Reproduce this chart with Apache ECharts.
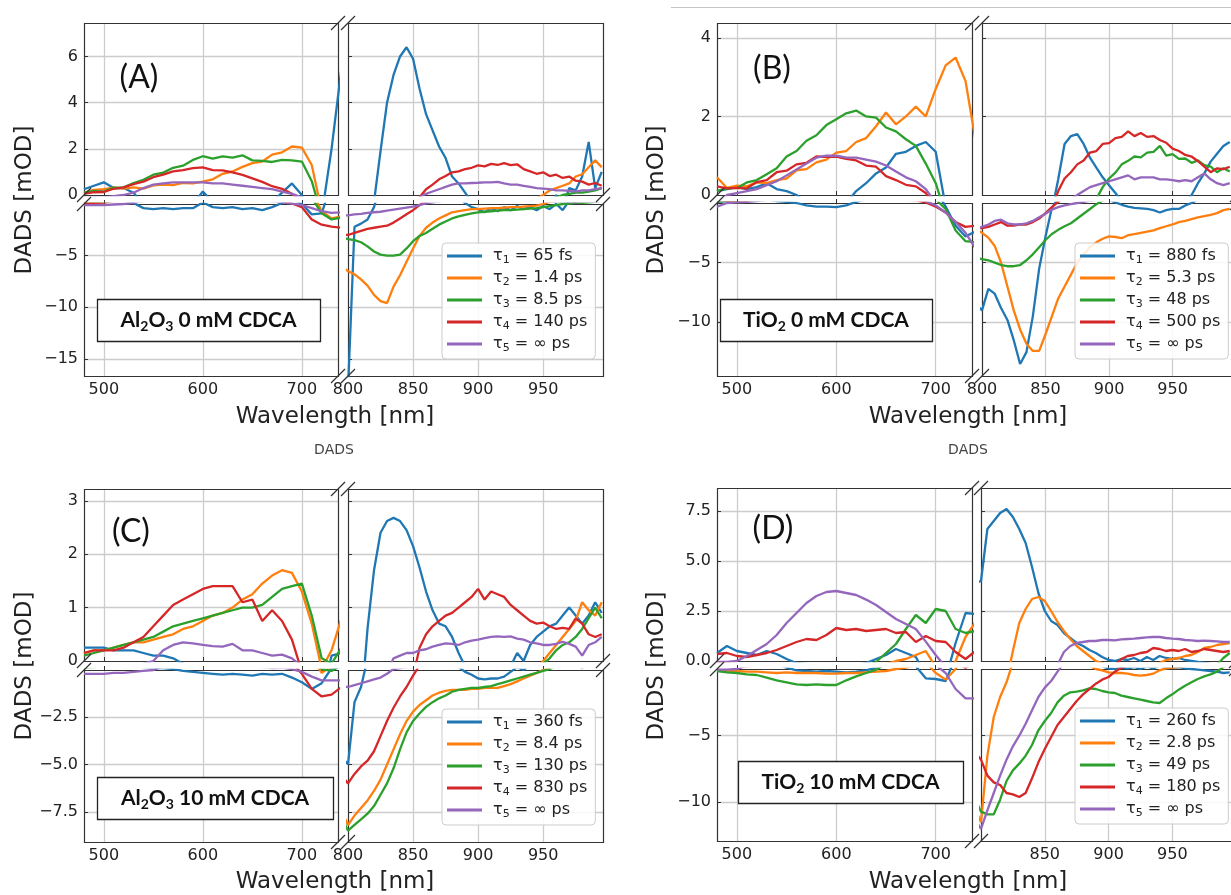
<!DOCTYPE html>
<html><head><meta charset="utf-8">
<script src="https://cdn.jsdelivr.net/npm/echarts@6/dist/echarts.min.js"></script>
<style>html,body{margin:0;padding:0;background:#fff}#c{width:1231px;height:895px}</style>
</head><body><div id="c"></div>
<script>
// ---------------- DATA ----------------
// wavelength grid (nm): left part 480..740 step 10, right part 800..995 step 5
const WL_LEFT = [480,490,500,510,520,530,540,550,560,570,580,590,600,610,620,630,640,650,660,670,680,690,700,710,720,730,740];
const WL_RIGHT = [800,805,810,815,820,825,830,835,840,845,850,855,860,865,870,875,880,885,890,895,900,905,910,915,920,925,930,935,940,945,950,955,960,965,970,975,980,985,990,995];
const WAVELENGTH = WL_LEFT.concat(WL_RIGHT);

// Panel A : Al2O3 0 mM CDCA
const A_tau1 = [0.25,0.4,0.55,0.3,0.3,0.1,-0.4,-0.5,-0.4,-0.5,-0.4,-0.4,0.15,-0.3,-0.4,-0.3,-0.5,-0.4,-0.6,-0.3,0.1,0.5,0.0,-1.0,-0.9,2.0,5.5,
  -18,-2.2,-1.9,-1.5,-0.3,1.9,4.0,5.2,6.0,6.4,5.9,4.6,3.5,2.8,2.1,1.6,0.8,0.5,0.1,-0.3,-0.5,-0.8,-0.4,-0.7,-0.3,-0.6,-0.2,-0.5,-0.3,-0.6,-0.2,-0.5,0.0,-0.6,0.3,0.2,0.8,2.3,0.3,1.0];
const A_tau2 = [0.1,0.22,0.25,0.32,0.28,0.33,0.28,0.42,0.45,0.43,0.52,0.5,0.58,0.68,0.92,1.02,1.22,1.38,1.45,1.75,1.85,2.1,2.05,1.3,-0.7,-1.4,-1.2,
  -6.5,-6.8,-7.3,-7.9,-8.8,-9.4,-9.6,-8.0,-6.9,-5.6,-4.3,-3.1,-2.3,-1.8,-1.4,-1.1,-0.8,-0.7,-0.6,-0.5,-0.5,-0.45,-0.4,-0.4,-0.35,-0.3,-0.3,-0.25,-0.2,-0.15,0.0,0.2,0.3,0.4,0.5,0.8,0.9,1.2,1.5,1.2];
const A_tau3 = [0.1,0.18,0.15,0.32,0.33,0.52,0.66,0.88,0.97,1.18,1.27,1.52,1.68,1.58,1.67,1.62,1.72,1.5,1.48,1.43,1.52,1.5,1.45,0.6,-0.9,-1.5,-1.3,
  -3.4,-3.5,-3.7,-4.1,-4.6,-4.9,-5.0,-5.0,-4.9,-4.3,-3.6,-3.1,-2.8,-2.4,-2.0,-1.7,-1.4,-1.2,-1.05,-0.9,-0.8,-0.75,-0.7,-0.65,-0.6,-0.6,-0.55,-0.5,-0.45,-0.4,-0.3,-0.2,-0.1,0.0,0.05,0.1,0.1,0.15,0.2,0.3];
const A_tau4 = [0.05,0.12,0.13,0.27,0.33,0.47,0.58,0.77,0.88,1.02,1.08,1.16,1.2,1.08,1.07,0.98,0.87,0.72,0.57,0.38,0.27,0.05,-0.3,-1.5,-2.0,-2.2,-2.3,
  -3.0,-2.8,-2.6,-2.4,-2.3,-2.2,-2.1,-1.8,-1.4,-1.0,-0.6,-0.1,0.25,0.45,0.68,0.82,0.98,1.02,1.12,1.18,1.28,1.24,1.35,1.3,1.38,1.29,1.33,1.12,1.02,0.92,0.98,0.82,0.88,0.74,0.8,0.62,0.58,0.45,0.52,0.4];
const A_tau5 = [-0.1,-0.1,-0.1,-0.05,0.0,0.1,0.3,0.45,0.5,0.55,0.55,0.55,0.55,0.5,0.5,0.45,0.4,0.35,0.3,0.25,0.15,0.05,-0.1,-0.4,-0.7,-0.85,-0.8,
  -1.1,-1.0,-0.95,-0.85,-0.8,-0.75,-0.65,-0.55,-0.45,-0.35,-0.25,-0.1,0.05,0.15,0.25,0.35,0.45,0.5,0.5,0.52,0.53,0.55,0.55,0.57,0.5,0.45,0.45,0.4,0.35,0.3,0.28,0.25,0.2,0.2,0.18,0.15,0.2,0.2,0.25,0.3];
const A_lifetimes = ['65 fs','1.4 ps','8.5 ps','140 ps','\u221e ps'];

// Panel B : TiO2 0 mM CDCA
const B_tau1 = [0.1,0.15,0.2,0.15,0.2,0.3,0.15,0.1,0.0,-0.2,-0.3,-0.3,-0.35,-0.2,0.1,0.3,0.55,0.7,1.05,1.1,1.25,1.35,1.1,-0.3,-1.9,-2.8,-2.4,
  -9.0,-7.2,-7.6,-8.8,-9.8,-11.5,-13.5,-12.5,-9.5,-5.5,-2.8,-0.4,0.4,1.3,1.5,1.55,1.3,0.95,0.7,0.45,0.25,0.05,-0.15,-0.3,-0.4,-0.45,-0.5,-0.6,-0.8,-0.6,-0.5,-0.5,-0.2,0.0,0.3,0.55,0.85,1.05,1.25,1.35];
const B_tau2 = [0.45,0.18,0.24,0.22,0.32,0.3,0.38,0.42,0.63,0.66,0.83,0.9,1.08,1.12,1.35,1.45,1.75,2.1,1.8,2.0,2.25,2.0,2.7,3.3,3.5,2.9,1.4,
  -2.5,-2.9,-3.6,-5.0,-7.0,-9.0,-10.6,-11.8,-12.4,-12.4,-11.0,-9.5,-8.0,-7.0,-6.0,-5.0,-4.3,-3.7,-3.3,-3.0,-2.8,-2.85,-2.95,-2.7,-2.6,-2.5,-2.4,-2.3,-2.1,-1.95,-1.8,-1.6,-1.5,-1.35,-1.2,-1.1,-1.0,-0.85,-0.6,-0.5];
const B_tau3 = [0.1,0.17,0.18,0.32,0.38,0.53,0.68,0.98,1.12,1.38,1.52,1.78,1.93,2.08,2.15,2.0,1.97,1.72,1.62,1.42,1.25,0.8,0.3,-0.5,-2.3,-3.2,-3.3,
  -4.7,-4.8,-5.0,-5.2,-5.3,-5.3,-5.2,-4.8,-4.3,-3.7,-3.1,-2.6,-2.25,-1.95,-1.7,-1.3,-0.9,-0.5,-0.1,0.2,0.42,0.57,0.78,0.87,0.98,0.96,1.08,1.1,1.25,1.0,1.04,0.92,0.93,0.82,0.88,0.76,0.72,0.58,0.68,0.6];
const B_tau4 = [0.22,0.17,0.18,0.17,0.33,0.38,0.58,0.62,0.78,0.82,0.98,0.97,0.98,0.92,0.88,0.75,0.72,0.48,0.38,0.26,0.22,0.05,-0.3,-0.8,-1.6,-2.0,-1.9,
  -2.1,-2.0,-1.8,-1.6,-1.9,-1.9,-1.8,-1.8,-1.6,-1.3,-0.85,-0.35,0.1,0.42,0.58,0.78,0.88,1.08,1.12,1.3,1.32,1.45,1.48,1.62,1.5,1.58,1.48,1.5,1.4,1.33,1.18,1.12,1.02,0.98,0.86,0.72,0.58,0.68,0.66,0.72];
const B_tau5 = [-0.3,0.0,0.05,0.1,0.15,0.25,0.35,0.5,0.65,0.8,0.95,1.0,1.0,0.95,0.95,0.9,0.85,0.75,0.6,0.45,0.35,0.15,-0.2,-0.8,-1.6,-2.5,-3.8,
  -2.0,-1.8,-1.5,-1.4,-1.7,-1.8,-1.8,-1.7,-1.5,-1.2,-0.9,-0.55,-0.35,-0.2,-0.1,0.0,0.1,0.2,0.25,0.3,0.35,0.4,0.45,0.5,0.4,0.45,0.45,0.45,0.4,0.4,0.38,0.35,0.38,0.35,0.45,0.55,0.4,0.3,0.25,0.3];
const B_lifetimes = ['880 fs','5.3 ps','48 ps','500 ps','\u221e ps'];

// Panel C : Al2O3 10 mM CDCA
const C_tau1 = [0.25,0.25,0.25,0.2,0.2,0.2,0.15,0.1,0.1,0.05,-0.05,-0.1,-0.15,-0.2,-0.25,-0.2,-0.25,-0.3,-0.2,-0.25,-0.2,-0.4,-0.65,-1.0,-0.7,0.1,0.15,
  -5.0,-1.7,-0.9,0.6,1.7,2.4,2.62,2.68,2.62,2.45,2.15,1.75,1.3,0.95,0.7,0.65,0.45,0.15,-0.1,-0.25,-0.45,-0.5,-0.45,-0.45,-0.35,-0.1,0.15,0.0,0.3,0.45,0.55,0.65,0.7,0.85,1.0,0.85,0.7,0.85,1.1,0.9];
const C_tau2 = [0.15,0.2,0.2,0.25,0.3,0.35,0.35,0.4,0.45,0.5,0.6,0.65,0.75,0.85,0.9,1.0,1.15,1.25,1.45,1.6,1.7,1.65,1.3,0.7,-0.15,0.2,0.8,
  -8.2,-7.7,-7.3,-6.9,-6.4,-5.8,-5.0,-4.2,-3.4,-2.7,-2.2,-1.85,-1.6,-1.35,-1.2,-1.1,-1.05,-1.05,-1.05,-1.0,-1.0,-0.95,-0.95,-0.95,-0.85,-0.75,-0.6,-0.45,-0.3,-0.15,0.0,0.15,0.3,0.45,0.6,0.75,1.1,0.95,0.85,1.1];
const C_tau3 = [0.1,0.15,0.2,0.25,0.3,0.35,0.4,0.45,0.55,0.65,0.7,0.75,0.8,0.85,0.9,0.95,1.0,1.0,1.05,1.2,1.35,1.4,1.45,0.85,0.05,-0.05,0.25,
  -8.5,-8.2,-7.9,-7.6,-7.2,-6.6,-6.0,-5.2,-4.2,-3.3,-2.7,-2.3,-1.95,-1.7,-1.5,-1.35,-1.15,-1.05,-1.0,-0.95,-0.95,-0.9,-0.85,-0.75,-0.65,-0.55,-0.45,-0.35,-0.25,-0.15,-0.05,0.05,0.2,0.3,0.35,0.45,0.6,0.8,1.0,0.8];
const C_tau4 = [0.15,0.2,0.2,0.2,0.25,0.35,0.45,0.65,0.85,1.05,1.15,1.25,1.35,1.4,1.4,1.4,1.1,1.15,0.75,0.95,0.75,0.4,-0.2,-1.0,-1.4,-1.3,-0.9,
  -6.0,-5.5,-5.1,-4.8,-4.3,-3.5,-2.7,-2.0,-1.4,-0.9,-0.3,0.25,0.5,0.65,0.75,0.85,0.9,1.0,1.1,1.2,1.35,1.15,1.3,1.25,1.2,1.05,0.95,0.85,0.75,0.7,0.72,0.65,0.6,0.62,0.6,0.8,0.7,0.5,0.45,0.5];
const C_tau5 = [-0.2,-0.2,-0.2,-0.15,-0.15,-0.1,-0.05,0.0,0.2,0.3,0.35,0.33,0.3,0.28,0.27,0.32,0.2,0.2,0.15,0.1,0.12,0.05,-0.1,-0.35,-0.55,-0.55,-0.55,
  -0.9,-0.8,-0.7,-0.6,-0.5,-0.4,-0.2,0.05,0.1,0.15,0.15,0.2,0.22,0.27,0.3,0.33,0.32,0.3,0.35,0.38,0.4,0.43,0.45,0.46,0.45,0.46,0.42,0.4,0.35,0.33,0.3,0.3,0.32,0.36,0.32,0.27,0.1,0.3,0.35,0.45];
const C_lifetimes = ['360 fs','8.4 ps','130 ps','830 ps','\u221e ps'];

// Panel D : TiO2 10 mM CDCA
const D_tau1 = [0.4,0.75,0.5,0.4,0.3,0.5,0.35,0.1,-0.1,-0.15,-0.2,-0.15,-0.2,-0.25,-0.2,-0.1,0.1,0.3,0.6,0.4,0.2,-0.7,-0.75,-0.9,0.9,2.4,2.35,
  4.0,6.6,7.0,7.4,7.6,7.2,6.6,5.9,4.7,3.4,2.5,2.0,1.8,1.4,1.15,0.9,0.75,0.55,0.4,0.2,0.05,0.0,0.1,0.05,0.15,0.0,0.2,0.05,0.25,0.15,0.1,0.15,0.05,0.0,-0.05,-0.1,-0.15,-0.2,-0.3,-0.25];
const D_tau2 = [-0.1,-0.15,-0.15,-0.2,-0.2,-0.25,-0.3,-0.25,-0.3,-0.3,-0.3,-0.35,-0.35,-0.3,-0.3,-0.25,-0.2,-0.15,0.0,0.1,0.3,0.5,-0.3,-0.8,0.0,1.2,1.95,
  -11.5,-6.5,-3.6,-2.1,-1.0,0.5,1.9,2.6,3.1,3.2,3.0,2.5,1.95,1.5,1.1,0.75,0.5,0.25,0.0,-0.1,-0.25,-0.3,-0.3,-0.35,-0.45,-0.5,-0.45,-0.35,-0.1,0.05,0.1,0.15,0.25,0.3,0.45,0.65,0.7,0.8,0.85,0.9];
const D_tau3 = [-0.15,-0.25,-0.3,-0.4,-0.45,-0.65,-0.85,-1.0,-1.15,-1.2,-1.15,-1.2,-1.2,-0.85,-0.55,-0.3,-0.05,0.4,0.85,1.6,2.3,1.9,2.6,2.5,1.6,1.4,1.5,
  -10.7,-10.9,-10.9,-9.8,-8.4,-7.6,-7.1,-6.5,-5.7,-4.6,-3.9,-3.3,-2.5,-2.0,-1.75,-1.7,-1.6,-1.45,-1.5,-1.65,-1.75,-1.8,-2.0,-2.1,-2.2,-2.3,-2.4,-2.5,-2.55,-2.2,-1.9,-1.55,-1.25,-1.0,-0.75,-0.55,-0.4,-0.2,0.15,0.4];
const D_tau4 = [0.35,0.4,0.25,0.2,0.3,0.4,0.55,0.75,0.95,1.1,1.05,1.3,1.65,1.55,1.6,1.5,1.55,1.6,1.4,1.45,0.95,1.25,1.0,0.95,0.45,0.1,0.5,
  -6.8,-8.0,-8.5,-8.7,-9.3,-9.4,-9.6,-9.3,-8.2,-7.0,-6.0,-5.1,-4.2,-3.6,-3.0,-2.4,-1.9,-1.5,-1.1,-0.8,-0.6,-0.2,0.1,0.25,0.3,0.4,0.45,0.65,0.6,0.5,0.55,0.5,0.6,0.45,0.5,0.6,0.55,0.5,0.45,0.5];
const D_tau5 = [-0.05,-0.05,0.0,0.25,0.55,0.85,1.3,1.9,2.4,2.9,3.25,3.45,3.5,3.4,3.3,3.07,2.8,2.45,2.1,1.85,1.6,0.97,0.3,-0.3,-1.5,-2.2,-2.2,
  -12.0,-10.6,-9.3,-8.0,-6.8,-5.8,-5.0,-4.1,-3.1,-2.1,-1.4,-0.9,-0.2,0.45,0.75,0.9,0.95,1.0,1.0,1.05,1.05,1.03,1.08,1.1,1.12,1.15,1.18,1.2,1.2,1.15,1.12,1.1,1.05,1.03,1.0,1.02,1.0,0.98,0.95,0.95];
const D_lifetimes = ['260 fs','2.8 ps','49 ps','180 ps','\u221e ps'];

// tick labels
const X_LEFT_TICKS = [500,600,700];
const X_RIGHT_TICKS = [800,850,900,950];
const X_RIGHT_TICKS_D = [850,900,950];
const A_yTop = [0,2,4,6],       A_yBot = [-5,-10,-15];
const B_yTop = [0,2,4],         B_yBot = [-5,-10];
const C_yTop = [0,1,2,3],       C_yBot = [-2.5,-5,-7.5];
const D_yTop = [0,2.5,5,7.5],   D_yBot = [-5,-10];

// ---------------- LAYOUT / STYLE ----------------
const COLORS = ['#1f77b4','#ff7f0e','#2ca02c','#d62728','#9467bd'];
const TXT = '#222';
const FONT = 'DejaVu Sans';
const X_LEFT = {min:480, max:736.5};
const X_RIGHT = {min:800, max:996};

const PANELS = [
  {key:'A', series:[A_tau1,A_tau2,A_tau3,A_tau4,A_tau5], life:A_lifetimes,
   lay:{L:84,M1:338,M2:348,R:603,T:23,N1:195,N2:204,B:376},
   yTop:{min:0,max:7.45,ticks:A_yTop,dec:0}, yBot:{min:-16.65,max:0,ticks:A_yBot,dec:0}, xr:X_RIGHT_TICKS,
   letter:{t:'(A)',x:139,y:78}, label:{pre:'Al',s1:'2',mid:'O',s2:'3',post:' 0 mM CDCA',x:97,y:299,w:223,h:42},
   legend:{x:442,y:243}, xTitle:{x:335,y:417}, yTitle:{x:25,y:200}},
  {key:'B', series:[B_tau1,B_tau2,B_tau3,B_tau4,B_tau5], life:B_lifetimes,
   lay:{L:717,M1:972,M2:982,R:1237,T:23,N1:195,N2:203,B:376},
   yTop:{min:0,max:4.38,ticks:B_yTop,dec:0}, yBot:{min:-14.5,max:0,ticks:B_yBot,dec:0}, xr:X_RIGHT_TICKS,
   letter:{t:'(B)',x:772,y:69}, label:{pre:'TiO',s1:'2',mid:'',s2:'',post:' 0 mM CDCA',x:720,y:299,w:212,h:42},
   legend:{x:1075,y:243}, xTitle:{x:968,y:417}, yTitle:{x:657,y:200}},
  {key:'C', series:[C_tau1,C_tau2,C_tau3,C_tau4,C_tau5], life:C_lifetimes,
   lay:{L:84,M1:338,M2:348,R:603,T:489,N1:661,N2:670,B:842},
   yTop:{min:0,max:3.22,ticks:C_yTop,dec:0}, yBot:{min:-9.1,max:0,ticks:C_yBot,dec:1}, xr:X_RIGHT_TICKS,
   letter:{t:'(C)',x:131,y:532}, label:{pre:'Al',s1:'2',mid:'O',s2:'3',post:' 10 mM CDCA',x:97,y:777,w:236,h:42},
   legend:{x:442,y:709}, xTitle:{x:335,y:882}, yTitle:{x:25,y:666}},
  {key:'D', series:[D_tau1,D_tau2,D_tau3,D_tau4,D_tau5], life:D_lifetimes,
   lay:{L:717,M1:972,M2:981,R:1236,T:488,N1:661,N2:669,B:841},
   yTop:{min:0,max:8.65,ticks:D_yTop,dec:1}, yBot:{min:-12.9,max:0,ticks:D_yBot,dec:0}, xr:X_RIGHT_TICKS_D,
   letter:{t:'(D)',x:773,y:529}, label:{pre:'TiO',s1:'2',mid:'',s2:'',post:' 10 mM CDCA',x:738,y:761,w:225,h:42},
   legend:{x:1075,y:708}, xTitle:{x:968,y:882}, yTitle:{x:657,y:666}}
];

function fmt(v, dec){ return (v < 0 ? '\u2212' : '') + Math.abs(v).toFixed(dec); }

const grids=[], xAxes=[], yAxes=[], series=[], legends=[], graphics=[];
const legendLabel = {};

PANELS.forEach(p => {
  const g = p.lay;
  const rects = [
    {x:g.L, y:g.T, w:g.M1-g.L, h:g.N1-g.T, side:'L', part:'top'},
    {x:g.M2, y:g.T, w:g.R-g.M2, h:g.N1-g.T, side:'R', part:'top'},
    {x:g.L, y:g.N2, w:g.M1-g.L, h:g.B-g.N2, side:'L', part:'bot'},
    {x:g.M2, y:g.N2, w:g.R-g.M2, h:g.B-g.N2, side:'R', part:'bot'}
  ];
  rects.forEach(r => {
    const gi = grids.length;
    grids.push({left:r.x, top:r.y, width:r.w, height:r.h, show:false});
    const xr = r.side === 'L' ? X_LEFT : X_RIGHT;
    const xLabels = r.side === 'L' ? X_LEFT_TICKS : p.xr;
    const xInner = xLabels.filter(v => v > xr.min && v < xr.max);
    xAxes.push({
      gridIndex:gi, type:'value', min:xr.min, max:xr.max,
      axisLine:{show:false},
      axisTick:{show:true, inside:true, length:4, lineStyle:{color:'#333'}, customValues:xInner},
      axisLabel:{show:r.part==='bot', customValues:xLabels, margin:6, fontSize:16, fontFamily:FONT, color:TXT,
                 formatter:v => String(v)},
      splitLine:{show:true, lineStyle:{color:'#cccccc', width:1.3}}
    });
    const yc = r.part === 'top' ? p.yTop : p.yBot;
    const yInner = yc.ticks.filter(v => v > yc.min && v < yc.max);
    yAxes.push({
      gridIndex:gi, type:'value', min:yc.min, max:yc.max,
      axisLine:{show:false},
      axisTick:{show:true, inside:true, length:4, lineStyle:{color:'#333'}, customValues:yInner},
      axisLabel:{show:r.side==='L', customValues:yc.ticks, margin:6, fontSize:16, fontFamily:FONT, color:TXT,
                 formatter:v => fmt(v, yc.dec)},
      splitLine:{show:true, lineStyle:{color:'#cccccc', width:1.3}}
    });
    p.series.forEach((vals,k) => {
      series.push({
        type:'line', name:p.key+(k+1), xAxisIndex:gi, yAxisIndex:gi,
        data: WAVELENGTH.map((w,i) => [w, vals[i]]),
        showSymbol:false, symbol:'none', color:COLORS[k],
        lineStyle:{width:2.3, color:COLORS[k]}, clip:true, silent:true, animation:false
      });
    });
    graphics.push({type:'rect', silent:true, z:3,
      shape:{x:r.x+0.5, y:r.y+0.5, width:r.w, height:r.h},
      style:{fill:'none', stroke:'#333', lineWidth:1.2}});
  });
  const d = 7;
  const corners = [[g.M1,g.T],[g.M2,g.T],[g.M1,g.B],[g.M2,g.B],[g.L,g.N1],[g.L,g.N2],[g.R,g.N1],[g.R,g.N2]];
  corners.forEach(c => graphics.push({type:'line', silent:true, z:4,
    shape:{x1:c[0]-d, y1:c[1]+d, x2:c[0]+d, y2:c[1]-d}, style:{stroke:'#333', lineWidth:1.2}}));
  p.life.forEach((l,k) => { legendLabel[p.key+(k+1)] = {i:k+1, l:l}; });
  legends.push({
    orient:'vertical', left:p.legend.x, top:p.legend.y,
    data:[1,2,3,4,5].map(k => p.key+k),
    icon:'rect', itemWidth:35, itemHeight:3, itemGap:4, padding:[5,8,5,5],
    backgroundColor:'rgba(255,255,255,0.85)', borderColor:'#cccccc', borderWidth:1, borderRadius:4,
    selectedMode:false, z:10,
    formatter: name => '{t|\u03c4}{s|' + legendLabel[name].i + '}{t| = ' + legendLabel[name].l + '}',
    textStyle:{color:TXT, fontFamily:FONT, fontSize:16, padding:[0,0,0,6],
      rich:{t:{fontSize:16, fontFamily:FONT, color:TXT, lineHeight:20},
            s:{fontSize:11, fontFamily:FONT, color:TXT, lineHeight:12, verticalAlign:'bottom'}}}
  });
  graphics.push({type:'text', silent:true, z:5, x:p.letter.x, y:p.letter.y,
    style:{text:p.letter.t, fontSize:32, fontFamily:'Lato', fill:'#111', align:'center', verticalAlign:'middle',
           textAlign:'center', textVerticalAlign:'middle'}});
  const lb = p.label;
  graphics.push({type:'rect', silent:true, z:5, shape:{x:lb.x+0.5, y:lb.y+0.5, width:lb.w, height:lb.h},
    style:{fill:'#fff', stroke:'#222', lineWidth:1.3}});
  const txt = lb.pre + '{s|' + lb.s1 + '}' + lb.mid + (lb.s2 ? '{s|' + lb.s2 + '}' : '') + lb.post;
  graphics.push({type:'text', silent:true, z:6, x:lb.x + lb.w/2, y:lb.y + lb.h/2,
    style:{text:txt, fontSize:21, fontWeight:'bold', fontFamily:'Lato', fill:'#111', lineHeight:26,
           align:'center', verticalAlign:'middle', textAlign:'center', textVerticalAlign:'middle',
           rich:{s:{fontSize:14, fontWeight:'bold', fontFamily:'Lato', fill:'#111', lineHeight:15, verticalAlign:'bottom'}}}});
  graphics.push({type:'text', silent:true, z:5, x:p.xTitle.x, y:p.xTitle.y,
    style:{text:'Wavelength [nm]', fontSize:23, fontFamily:FONT, fill:TXT, align:'center', verticalAlign:'middle',
           textAlign:'center', textVerticalAlign:'middle'}});
  graphics.push({type:'text', silent:true, z:5, x:p.yTitle.x, y:p.yTitle.y, rotation:Math.PI/2,
    style:{text:'DADS [mOD]', fontSize:23, fontFamily:FONT, fill:TXT, align:'center', verticalAlign:'middle',
           textAlign:'center', textVerticalAlign:'middle'}});
});

[[334,450],[968,450]].forEach(c => graphics.push({type:'text', silent:true, x:c[0], y:c[1],
  style:{text:'DADS', fontSize:14, fontFamily:FONT, fill:'#444', align:'center', verticalAlign:'middle',
         textAlign:'center', textVerticalAlign:'middle'}}));
graphics.push({type:'line', silent:true, shape:{x1:671, y1:7.5, x2:1231, y2:7.5}, style:{stroke:'#c4c4c4', lineWidth:1}});

const chart = echarts.init(document.getElementById('c'), null, {renderer:'canvas', width:1231, height:895});
chart.setOption({
  animation:false, backgroundColor:'#fff',
  grid:grids, xAxis:xAxes, yAxis:yAxes, series:series, legend:legends, graphic:graphics
});
</script></body></html>
